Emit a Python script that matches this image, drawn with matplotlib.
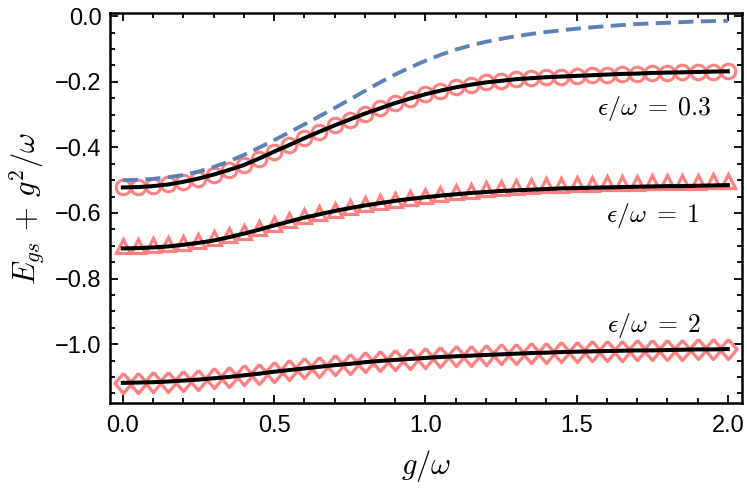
import numpy as np
import matplotlib
matplotlib.use("Agg")
import matplotlib.pyplot as plt

plt.rcParams['mathtext.fontset'] = 'cm'
plt.rcParams['font.family'] = ['Liberation Sans', 'DejaVu Sans']

# all series sampled at g/omega = 0, 0.05, ..., 2
g_pts = np.round(np.arange(0, 2.0001, 0.05), 2)

# eps/omega = 0.3, open circles (also used for its black line)
e03_pts = [-0.522, -0.521, -0.518, -0.513, -0.505, -0.495, -0.483, -0.469, -0.454, -0.434,
           -0.413, -0.393, -0.372, -0.352, -0.333, -0.315, -0.297, -0.281, -0.265, -0.251,
           -0.238, -0.227, -0.217, -0.209, -0.202, -0.197, -0.192, -0.189, -0.186, -0.184,
           -0.182, -0.180, -0.178, -0.176, -0.175, -0.173, -0.172, -0.171, -0.170, -0.169,
           -0.168]

# eps/omega = 1, triangles
e1_pts = [-0.700, -0.700, -0.698, -0.695, -0.690, -0.684, -0.677, -0.668, -0.657, -0.645,
          -0.633, -0.621, -0.610, -0.599, -0.590, -0.582, -0.574, -0.567, -0.560, -0.553,
          -0.547, -0.541, -0.536, -0.532, -0.528, -0.524, -0.521, -0.518, -0.516, -0.514,
          -0.512, -0.511, -0.510, -0.509, -0.508, -0.507, -0.506, -0.505, -0.505, -0.504,
          -0.503]
e1_line = [-0.708, -0.707, -0.705, -0.702, -0.697, -0.691, -0.684, -0.674, -0.663, -0.651,
           -0.638, -0.626, -0.614, -0.604, -0.594, -0.585, -0.577, -0.570, -0.563, -0.557,
           -0.552, -0.547, -0.543, -0.539, -0.536, -0.533, -0.531, -0.529, -0.527, -0.525,
           -0.524, -0.523, -0.522, -0.521, -0.520, -0.519, -0.518, -0.518, -0.517, -0.516,
           -0.515]

# eps/omega = 2, diamonds (also used for its black line)
e2_pts = [-1.118, -1.117, -1.116, -1.114, -1.111, -1.108, -1.104, -1.100, -1.095, -1.090,
          -1.084, -1.079, -1.074, -1.069, -1.064, -1.060, -1.055, -1.051, -1.048, -1.045,
          -1.042, -1.039, -1.037, -1.035, -1.033, -1.031, -1.029, -1.027, -1.026, -1.024,
          -1.023, -1.022, -1.021, -1.020, -1.019, -1.019, -1.018, -1.017, -1.016, -1.016,
          -1.015]

# dashed reference curve
dash_line = [-0.500, -0.499, -0.496, -0.491, -0.484, -0.474, -0.460, -0.443, -0.423, -0.401,
             -0.378, -0.354, -0.330, -0.305, -0.280, -0.254, -0.228, -0.202, -0.178, -0.156,
             -0.136, -0.118, -0.102, -0.089, -0.078, -0.069, -0.061, -0.054, -0.048, -0.043,
             -0.038, -0.034, -0.030, -0.027, -0.024, -0.022, -0.020, -0.018, -0.016, -0.015,
             -0.014]

labels = [r'$\epsilon/\omega\;=\;0.3$', r'$\epsilon/\omega\;=\;1$', r'$\epsilon/\omega\;=\;2$']

salmon = '#ff8080'
blue = '#5e81b5'

# slightly tall diamond, like the Mathematica marker
tall_diamond = [(0, 1), (0.85, 0), (0, -1), (-0.85, 0), (0, 1)]

fig = plt.figure(figsize=(7.47, 4.98), dpi=100)
ax = fig.add_axes([0.147, 0.191, 0.846, 0.782])

ax.plot(g_pts, e03_pts, 'o', ms=10.5, mfc='none', mec=salmon, mew=2.2, zorder=2)
ax.plot(g_pts, e1_pts, '^', ms=10, mfc='none', mec=salmon, mew=2.3, zorder=2)
ax.plot(g_pts, e2_pts, marker=tall_diamond, ls='none', ms=14.5, mfc='none', mec=salmon, mew=2.4, zorder=2)

ax.plot(g_pts, e03_pts, '-', color='black', lw=2.9, zorder=3)
ax.plot(g_pts, e1_line, '-', color='black', lw=2.9, zorder=3)
ax.plot(g_pts, e2_pts, '-', color='black', lw=2.9, zorder=3)
ax.plot(g_pts, dash_line, '--', color=blue, lw=2.8, dashes=(3.9, 1.9), zorder=4)

ax.text(1.946, -0.302, labels[0], ha='right', va='baseline', fontsize=18.5)
ax.text(1.907, -0.627, labels[1], ha='right', va='baseline', fontsize=18.5)
ax.text(1.913, -0.962, labels[2], ha='right', va='baseline', fontsize=18.5)

ax.set_xlim(-0.043, 2.046)
ax.set_ylim(-1.179, 0.0084)
ax.set_xticks([0.0, 0.5, 1.0, 1.5, 2.0])
ax.set_yticks([0.0, -0.2, -0.4, -0.6, -0.8, -1.0])
ax.set_xticks(np.arange(0, 2.01, 0.1), minor=True)
ax.set_yticks(np.arange(-1.15, 0.001, 0.05), minor=True)
ax.xaxis.set_major_formatter(matplotlib.ticker.FormatStrFormatter('%.1f'))
ax.yaxis.set_major_formatter(matplotlib.ticker.FuncFormatter(lambda v, p: ('%.1f' % v).replace('-', '\u2212')))
ax.tick_params(which='both', direction='in', top=True, right=True, labelsize=17, width=1.3)
ax.tick_params(which='major', length=6)
ax.tick_params(which='minor', length=3.5)
ax.tick_params(axis='x', pad=9)
ax.tick_params(axis='y', pad=6)
for s in ax.spines.values():
    s.set_linewidth(1.8)

ax.set_xlabel(r'$g/\omega$', fontsize=22, labelpad=8)
ax.set_ylabel(r'$E_{gs}\,+\,g^2/\omega$', fontsize=22, labelpad=6)

fig.savefig('out.png', dpi=100)
